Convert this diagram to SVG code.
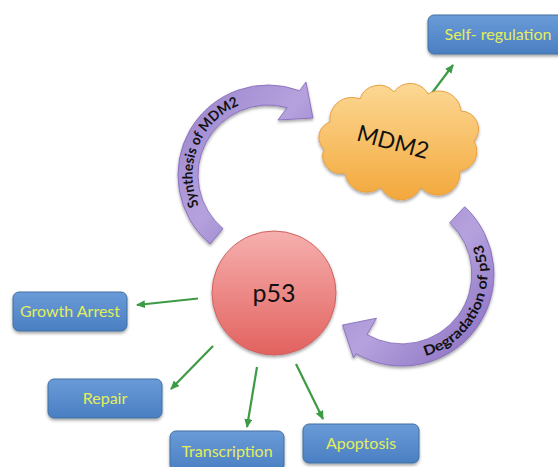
<svg xmlns="http://www.w3.org/2000/svg" width="558" height="467" viewBox="0 0 558 467">
<defs>
<linearGradient id="gBox" x1="0" y1="0" x2="0" y2="1">
<stop offset="0" stop-color="#6a9bd8"/>
<stop offset="1" stop-color="#4a7fc2"/>
</linearGradient>
<linearGradient id="gP53" x1="0" y1="0" x2="0" y2="1">
<stop offset="0" stop-color="#f6b0ae"/>
<stop offset="1" stop-color="#e2625f"/>
</linearGradient>
<linearGradient id="gCloud" x1="0" y1="0" x2="0" y2="1">
<stop offset="0" stop-color="#fcd894"/>
<stop offset="1" stop-color="#f3a83c"/>
</linearGradient>
<linearGradient id="gPurple" x1="0" y1="0" x2="1" y2="1">
<stop offset="0" stop-color="#9880cb"/>
<stop offset="0.5" stop-color="#b5a2dd"/>
<stop offset="1" stop-color="#8368bd"/>
</linearGradient>
<filter id="shadow" x="-20%" y="-20%" width="140%" height="150%">
<feDropShadow dx="0" dy="2" stdDeviation="1.5" flood-color="#000" flood-opacity="0.35"/>
</filter>
<marker id="ah" markerUnits="userSpaceOnUse" markerWidth="9" markerHeight="8" refX="8" refY="4" orient="auto">
<path d="M0,0 L9,4 L0,8 z" fill="#3d9b45"/>
</marker>
<path id="tpSynth" d="M214.6,228.4 A75.5,75.5 0 0 1 293.8,104.1"/>
<path id="tpDegr" d="M372.8,354.3 A85.5,85.5 0 0 0 467.5,219"/>
</defs>
<style>
.box{fill:url(#gBox);stroke:#41709f;stroke-width:1;filter:url(#shadow)}
.boxtxt{font-family:Lato,"Open Sans",sans-serif;font-size:16px;fill:#e4ee5a;text-anchor:middle}
.green{stroke:#3d9b45;stroke-width:2.2;fill:none;marker-end:url(#ah)}
.band{fill:url(#gPurple);stroke:#7f65b8;stroke-width:0.8;filter:url(#shadow)}
.bandtxt{font-family:Lato,"Open Sans",sans-serif;font-size:14px;font-weight:bold;fill:#111}
</style>
<rect width="558" height="467" fill="#ffffff"/>

<g id="connectors">
<g id="synthesis-of-mdm2">
<path class="band" d="M210.15,243.94 A90,90 0 0 1 299.6,90.7 L306,82 L313,118 L278,120 L287.1,107.65 A70,70 0 0 0 223,228.6 Z"/>
<text class="bandtxt"><textPath href="#tpSynth" startOffset="88" text-anchor="middle" textLength="120" lengthAdjust="spacingAndGlyphs">Synthesis of MDM2</textPath></text>
</g>
<g id="degradation-of-p53">
<path class="band" d="M464.7,206.7 A92,92 0 0 1 356,353.7 L353.5,358 L342.5,325 L376.5,318.2 L367,334.6 A70,70 0 0 0 449.7,222.8 Z"/>
<text class="bandtxt"><textPath href="#tpDegr" startOffset="124" text-anchor="middle" textLength="141" lengthAdjust="spacingAndGlyphs">Degradation of p53</textPath></text>
</g>
<line class="green" x1="432" y1="93" x2="453" y2="65"/>
<line class="green" x1="198" y1="298.5" x2="137" y2="305"/>
<line class="green" x1="213" y1="346" x2="171" y2="389"/>
<line class="green" x1="257" y1="367" x2="247" y2="427"/>
<line class="green" x1="296" y1="364" x2="323" y2="419"/>
</g>

<g id="node-mdm2">
<path d="M330,122 A22,22 0 0 1 360,99 A20,20 0 0 1 394,92 A20,20 0 0 1 428,94 A22,22 0 0 1 461,111 A18,18 0 0 1 474,141 A20,20 0 0 1 460,171 A22,22 0 0 1 421,187 A22,22 0 0 1 381,187 A22,22 0 0 1 345,173 A18,18 0 0 1 324,149 A16,16 0 0 1 330,122 Z" fill="url(#gCloud)" stroke="#e9a040" stroke-width="1" filter="url(#shadow)"/>
<text x="393" y="150" transform="rotate(15 393 142)" font-family="Lato,'Open Sans',sans-serif" font-size="23" fill="#111" text-anchor="middle">MDM2</text>
</g>

<g id="node-p53">
<circle cx="274" cy="293" r="62" fill="url(#gP53)" stroke="#d0605e" stroke-width="1" filter="url(#shadow)"/>
<text x="274" y="302" font-family="Lato,'Open Sans',sans-serif" font-size="25" fill="#111" text-anchor="middle">p53</text>
</g>

<g id="node-self-regulation">
<rect class="box" x="428" y="15" width="142" height="39" rx="6"/>
<text class="boxtxt" x="498" y="40">Self- regulation</text>
</g>
<g id="node-growth-arrest">
<rect class="box" x="13" y="292" width="114" height="39" rx="6"/>
<text class="boxtxt" x="70" y="317">Growth Arrest</text>
</g>
<g id="node-repair">
<rect class="box" x="48" y="379" width="114" height="39" rx="6"/>
<text class="boxtxt" x="105" y="404">Repair</text>
</g>
<g id="node-transcription">
<rect class="box" x="170" y="431" width="114" height="40" rx="6"/>
<text class="boxtxt" x="227" y="457">Transcription</text>
</g>
<g id="node-apoptosis">
<rect class="box" x="303" y="424" width="116" height="39" rx="6"/>
<text class="boxtxt" x="361" y="449">Apoptosis</text>
</g>
</svg>
